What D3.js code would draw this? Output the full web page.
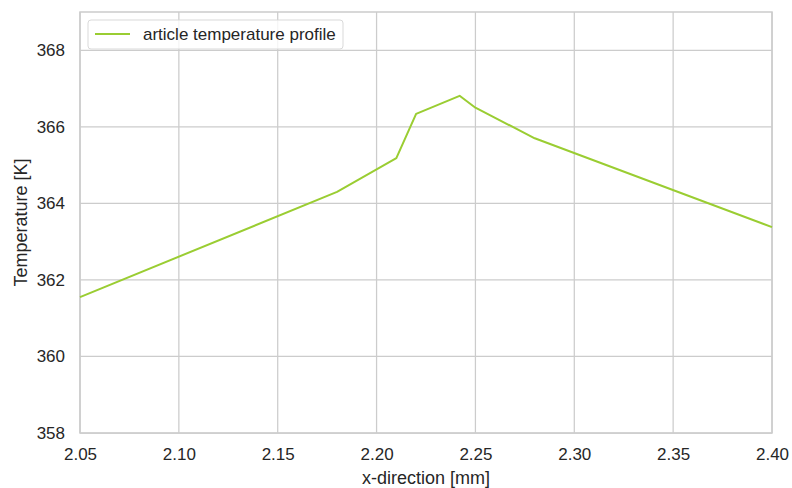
<!DOCTYPE html>
<html>
<head>
<meta charset="utf-8">
<script src="https://cdn.jsdelivr.net/npm/d3@7"></script>
<style>
  html, body { margin: 0; padding: 0; background: #fff; }
  text { font-family: "Liberation Sans", Arial, sans-serif; fill: #262626; }
</style>
</head>
<body>
<svg id="chart" width="792" height="488"></svg>
<script>
// Temperature profile along the x-direction
const xPositions = [2.05, 2.18, 2.21, 2.22, 2.242, 2.25, 2.28, 2.40];
const temperatures = [361.55, 364.3, 365.18, 366.34, 366.81, 366.5, 365.7, 363.38];
const xTicks = [2.05, 2.10, 2.15, 2.20, 2.25, 2.30, 2.35, 2.40];
const yTicks = [358, 360, 362, 364, 366, 368];
const seriesName = "article temperature profile";

const svg = d3.select("#chart");
const margin = { left: 80, right: 20, top: 12, bottom: 55 };
const W = 792, H = 488;

const x = d3.scaleLinear().domain([2.05, 2.40]).range([margin.left, W - margin.right]);
const y = d3.scaleLinear().domain([358, 369]).range([H - margin.bottom, margin.top]);

const grid = "#cccccc";

// grid lines
svg.append("g").selectAll("line").data(xTicks).join("line")
  .attr("x1", d => x(d)).attr("x2", d => x(d))
  .attr("y1", y.range()[1]).attr("y2", y.range()[0])
  .attr("stroke", grid).attr("stroke-width", 1.25);
svg.append("g").selectAll("line").data(yTicks).join("line")
  .attr("x1", x.range()[0]).attr("x2", x.range()[1])
  .attr("y1", d => y(d)).attr("y2", d => y(d))
  .attr("stroke", grid).attr("stroke-width", 1.25);

// frame
svg.append("rect")
  .attr("x", x.range()[0]).attr("y", y.range()[1])
  .attr("width", x.range()[1] - x.range()[0])
  .attr("height", y.range()[0] - y.range()[1])
  .attr("fill", "none").attr("stroke", grid).attr("stroke-width", 1.5);

// tick labels via axes (no tick marks)
const xAxis = svg.append("g")
  .attr("transform", `translate(0,${y.range()[0]})`)
  .call(d3.axisBottom(x).tickValues(xTicks).tickFormat(d3.format(".2f")).tickSize(0).tickPadding(15));
const yAxis = svg.append("g")
  .attr("transform", `translate(${x.range()[0]},0)`)
  .call(d3.axisLeft(y).tickValues(yTicks).tickFormat(d3.format("d")).tickSize(0).tickPadding(15));
[xAxis, yAxis].forEach(g => {
  g.attr("font-size", null).attr("font-family", null);
  g.select(".domain").remove();
  g.selectAll("text").style("font-size", "17px").attr("fill", "#262626");
});

// axis titles
svg.append("text")
  .attr("x", (x.range()[0] + x.range()[1]) / 2).attr("y", 484)
  .attr("text-anchor", "middle").style("font-size", "18px")
  .text("x-direction [mm]");
svg.append("text")
  .attr("transform", `translate(27,${(y.range()[0] + y.range()[1]) / 2}) rotate(-90)`)
  .attr("text-anchor", "middle").style("font-size", "18px")
  .text("Temperature [K]");

// data line
const line = d3.line().x((d, i) => x(xPositions[i])).y(d => y(d));
svg.append("path")
  .datum(temperatures)
  .attr("d", line)
  .attr("fill", "none")
  .attr("stroke", "#9acd32")
  .attr("stroke-width", 2)
  .attr("stroke-linejoin", "round");

// legend
const lg = svg.append("g").attr("transform", "translate(88,20)");
lg.append("rect")
  .attr("width", 255).attr("height", 29).attr("rx", 3)
  .attr("fill", "#fff").attr("fill-opacity", 0.8)
  .attr("stroke", "#d9d9d9").attr("stroke-width", 1);
lg.append("line")
  .attr("x1", 7).attr("x2", 42).attr("y1", 14).attr("y2", 14)
  .attr("stroke", "#9acd32").attr("stroke-width", 2);
lg.append("text")
  .attr("x", 55).attr("y", 20)
  .style("font-size", "17px")
  .text(seriesName);
</script>
</body>
</html>
